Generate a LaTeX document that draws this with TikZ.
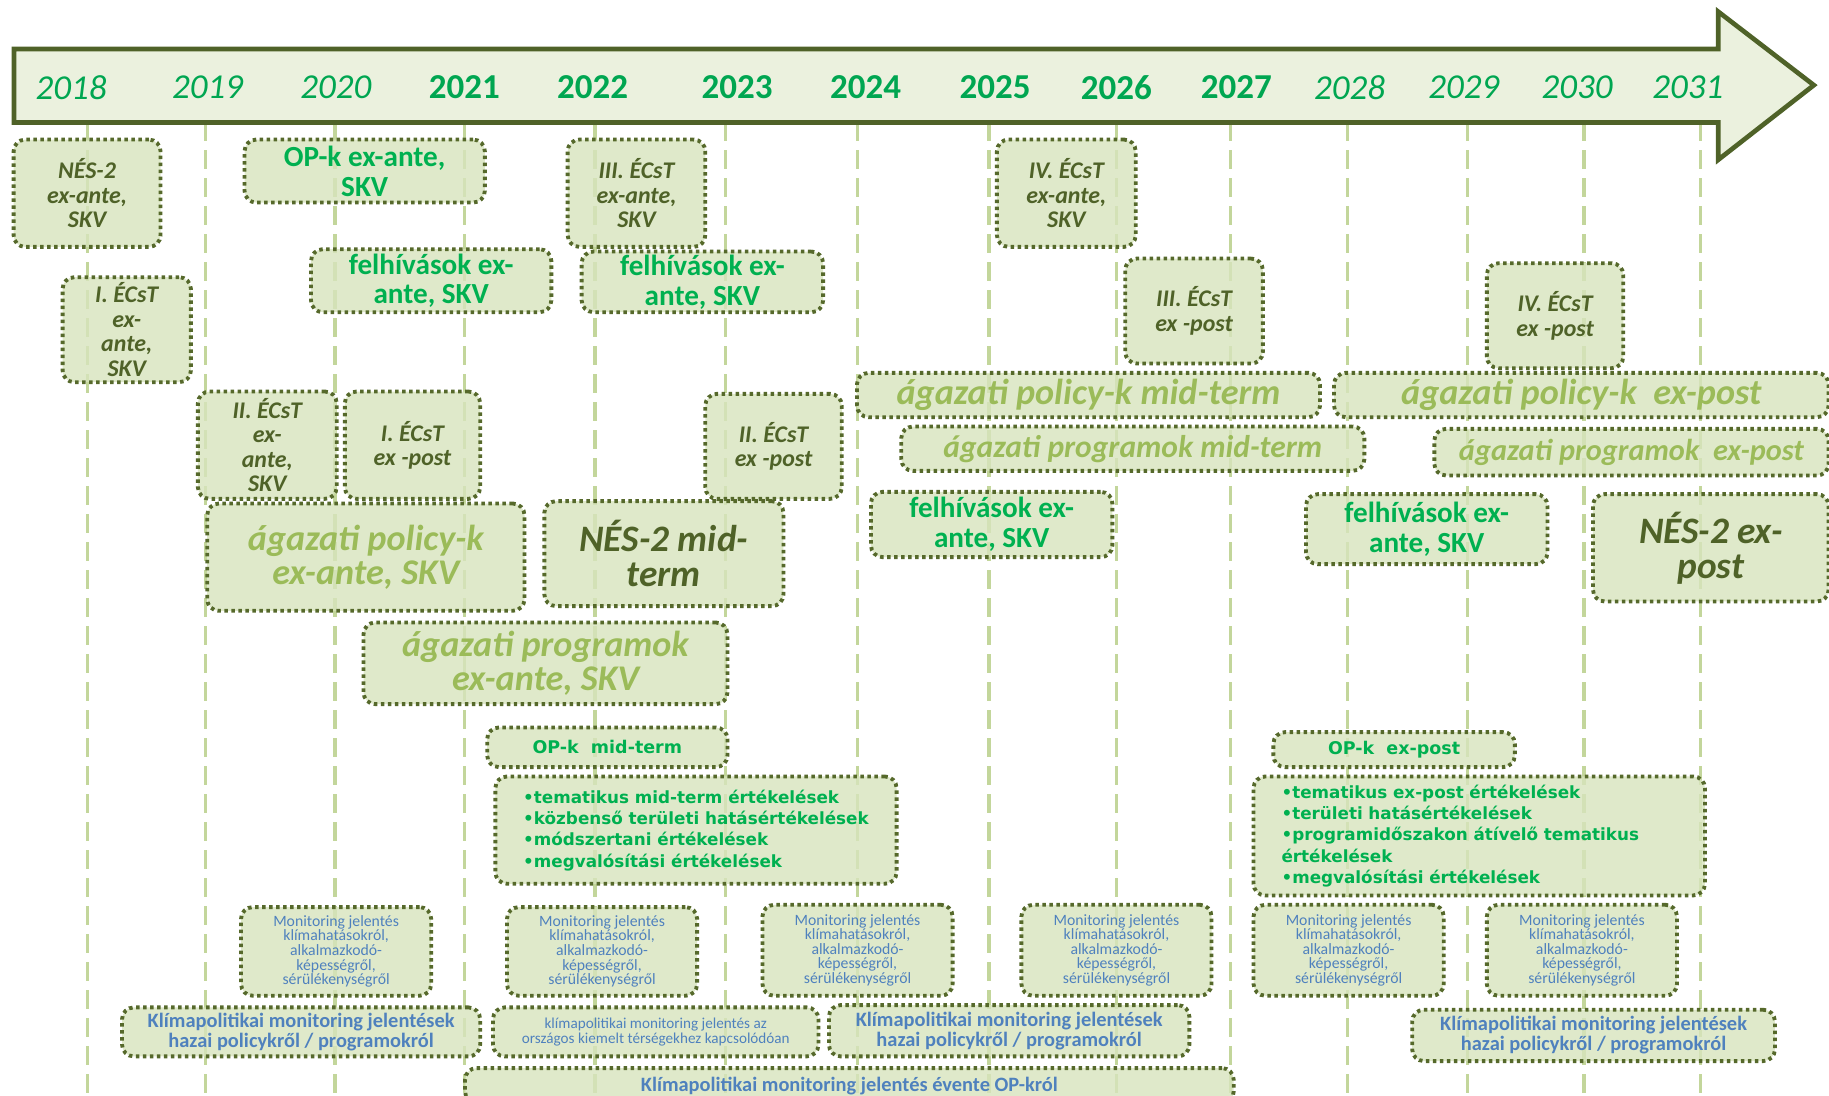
\documentclass[tikz,border=0pt]{standalone}
\usepackage{fontspec}
\setmainfont{Carlito}
\newfontfamily\listfont{DejaVu Sans}
\usetikzlibrary{calc}

\definecolor{arrowfill}{HTML}{EBF1DE}
\definecolor{olivedark}{HTML}{4F6228}
\definecolor{boxborder}{HTML}{56692B}
\definecolor{boxfill}{HTML}{D7E4BD}
\definecolor{guidegreen}{HTML}{C3D69B}
\definecolor{yeargreen}{RGB}{0,166,81}
\definecolor{textgreen}{RGB}{0,176,80}
\definecolor{lightolive}{HTML}{9BBB59}
\definecolor{reportblue}{HTML}{4F81BD}

\begin{document}
\begin{tikzpicture}
   [
      x=1pt, y=-1pt,
      guide line/.style={line width=3pt, guidegreen, dash pattern=on 16pt off 8pt},
      time arrow/.style={draw=olivedark, line width=4pt, fill=arrowfill, line join=miter},
      year label/.style={text=yeargreen, inner sep=0pt, font=\fontsize{30}{34}\selectfont},
      phase box/.style={rectangle, anchor=north west, rounded corners=10pt,
                        draw=boxborder, line width=3.3pt, dash pattern=on 3pt off 3pt,
                        fill=boxfill, fill opacity=0.8, text opacity=1,
                        align=center, inner sep=0pt},
      ecst text/.style={text=olivedark, font=\fontsize{20.5}{21}\selectfont\bfseries\itshape},
      call text/.style={text=textgreen, font=\fontsize{25}{25.5}\selectfont\bfseries},
      sector text/.style={text=lightolive, font=\fontsize{31}{29.5}\selectfont\bfseries\itshape},
      nes text/.style={text=olivedark, font=\fontsize{32}{30}\selectfont\bfseries\itshape},
      eval text/.style={text=textgreen, align=left,
                        font=\listfont\fontsize{14.4}{18.3}\selectfont\bfseries},
      report text/.style={text=reportblue, font=\fontsize{13.5}{12.5}\selectfont},
      policy report/.style={text=reportblue, font=\fontsize{17.5}{17}\selectfont\bfseries}
   ]

   \useasboundingbox (0,0) rectangle (1568,939);

   % =======================================================
   % Time axis: guide lines, arrow and years
   % =======================================================

   % Dashed guide lines (one per year)
   \foreach \lx in {75,176,287,398,510,622,735,848,957,1055,1155,1258,1358,1458}
      \draw[guide line] (\lx,105) -- (\lx,939);

   % Arrow
   \draw[time arrow] (12,42) -- (1473,42) -- (1473,10) -- (1555,73)
      -- (1473,137) -- (1473,105) -- (12,105) -- cycle;

   % Years
   \foreach \yr/\tx/\yf in {2018/61/\itshape, 2019/178/\itshape, 2020/288/\itshape,
         2021/398/\bfseries, 2022/508/\bfseries, 2023/632/\bfseries, 2024/742/\bfseries,
         2025/853/\bfseries, 2026/957/\bfseries, 2027/1060/\bfseries,
         2028/1157/\itshape, 2029/1255/\itshape, 2030/1352/\itshape, 2031/1447/\itshape}
      \node[year label] (y\yr) at (\tx,75) {\yf\yr};

   % =======================================================
   % Ex-ante evaluations (upper part)
   % =======================================================

   \node[phase box, ecst text, minimum width=126, minimum height=92] (nes_exante)
      at (10,118) {NÉS-2\\ex-ante,\\SKV};
   \node[phase box, call text, minimum width=206, minimum height=54] (op_exante)
      at (208,118) {OP-k ex-ante,\\SKV};
   \node[phase box, ecst text, minimum width=118, minimum height=92] (ecst3_exante)
      at (485,118) {III. ÉCsT\\ex-ante,\\SKV};
   \node[phase box, ecst text, minimum width=119, minimum height=92] (ecst4_exante)
      at (853,118) {IV. ÉCsT\\ex-ante,\\SKV};

   % Calls
   \node[phase box, call text, minimum width=206, minimum height=54] (felhiv_a)
      at (265,212) {felhívások ex-\\ante, SKV};
   \node[phase box, call text, minimum width=207, minimum height=52] (felhiv_b)
      at (497,214) {felhívások ex-\\ante, SKV};

   % ÉCsT boxes
   \node[phase box, ecst text, minimum width=110, minimum height=90] (ecst1_exante)
      at (52,236) {I. ÉCsT\\ex-\\ante,\\SKV};
   \node[phase box, ecst text, minimum width=118, minimum height=90] (ecst3_expost)
      at (963,220) {III. ÉCsT\\ex -post};
   \node[phase box, ecst text, minimum width=117, minimum height=90] (ecst4_expost)
      at (1273,224) {IV. ÉCsT\\ex -post};
   \node[phase box, ecst text, minimum width=119, minimum height=92] (ecst2_exante)
      at (168,334) {II. ÉCsT\\ex-\\ante,\\SKV};
   \node[phase box, ecst text, minimum width=116, minimum height=92] (ecst1_expost)
      at (294,334) {I. ÉCsT\\ex -post};
   \node[phase box, ecst text, minimum width=117, minimum height=90] (ecst2_expost)
      at (603,336) {II. ÉCsT\\ex -post};

   % =======================================================
   % Sector policies and programmes
   % =======================================================

   \node[phase box, sector text, minimum width=397, minimum height=38] (policy_mid)
      at (733,318) {ágazati policy-k mid-term};
   \node[phase box, sector text, minimum width=424, minimum height=38] (policy_expost)
      at (1142,318) {ágazati policy-k\ \ ex-post};
   \node[phase box, sector text, font=\fontsize{27}{29}\selectfont\bfseries\itshape,
         minimum width=397, minimum height=38] (prog_mid)
      at (771,364) {ágazati programok mid-term};
   \node[phase box, sector text, font=\fontsize{26}{29}\selectfont\bfseries\itshape,
         minimum width=338, minimum height=40] (prog_expost)
      at (1228,366) {ágazati programok\ \ ex-post};
   \node[phase box, sector text, minimum width=272, minimum height=92] (policy_exante)
      at (176,430) {ágazati policy-k\\ex-ante, SKV};
   \node[phase box, nes text, minimum width=205, minimum height=90] (nes_mid)
      at (465,428) {NÉS-2 mid-\\term};
   \node[phase box, call text, minimum width=207, minimum height=56] (felhiv_c)
      at (745,420) {felhívások ex-\\ante, SKV};
   \node[phase box, call text, minimum width=207, minimum height=60] (felhiv_d)
      at (1118,422) {felhívások ex-\\ante, SKV};
   \node[phase box, nes text, minimum width=202, minimum height=92] (nes_expost)
      at (1364,422) {NÉS-2 ex-\\post};
   \node[phase box, sector text, minimum width=312, minimum height=70] (prog_exante)
      at (310,532) {ágazati programok\\ex-ante, SKV};

   % =======================================================
   % OP evaluations
   % =======================================================

   \node[phase box, eval text, font=\listfont\fontsize{15}{18}\selectfont\bfseries,
         minimum width=206, minimum height=34] (op_mid)
      at (416,622) {OP-k\ \ mid-term};
   \node[phase box, eval text, font=\listfont\fontsize{15}{18}\selectfont\bfseries,
         minimum width=207, minimum height=30] (op_expost)
      at (1090,626) {OP-k\ \ ex-post};
   \node[phase box, eval text, minimum width=344, minimum height=92] (eval_mid)
      at (423,664) {•tematikus mid-term értékelések\\•közbenső területi hatásértékelések\\
                    •módszertani értékelések\\•megvalósítási értékelések};
   \node[phase box, eval text, text width=339, minimum width=387, minimum height=102] (eval_expost)
      at (1073,664) {•tematikus ex-post értékelések\\•területi hatásértékelések\\
                     •programidőszakon átívelő tematikus\\értékelések\\
                     •megvalósítási értékelések};

   % =======================================================
   % Monitoring reports (bottom rows)
   % =======================================================

   \foreach \name/\mx/\my/\mh in {mon_a/205/776/76, mon_b/433/776/76, mon_c/652/774/78,
         mon_d/874/774/78, mon_e/1073/774/78, mon_f/1273/774/78}
      \node[phase box, report text, minimum width=163, minimum height=\mh] (\name)
         at (\mx,\my) {Monitoring jelentés\\klímahatásokról,\\alkalmazkodó-\\
                       képességről,\\sérülékenységről};

   \node[phase box, policy report, minimum width=307, minimum height=42] (hazai_a)
      at (103,862) {Klímapolitikai monitoring jelentések\\hazai policykről / programokról};
   \node[phase box, report text, font=\fontsize{13}{13}\selectfont,
         minimum width=279, minimum height=42] (orszagos)
      at (421,862) {klímapolitikai monitoring jelentés az\\országos kiemelt térségekhez kapcsolódóan};
   \node[phase box, policy report, minimum width=309, minimum height=44] (hazai_b)
      at (709,860) {Klímapolitikai monitoring jelentések\\hazai policykről / programokról};
   \node[phase box, policy report, minimum width=311, minimum height=44] (hazai_c)
      at (1209,864) {Klímapolitikai monitoring jelentések\\hazai policykről / programokról};
   \node[phase box, policy report, minimum width=659, minimum height=30] (op_annual)
      at (397,914) {Klímapolitikai monitoring jelentés évente OP-król};

\end{tikzpicture}
\end{document}
